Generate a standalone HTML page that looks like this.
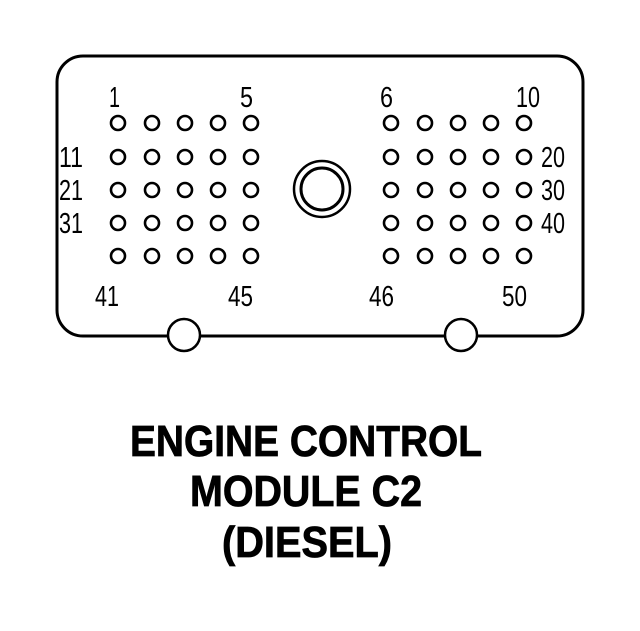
<!DOCTYPE html>
<html><head><style>html,body{margin:0;padding:0;background:#fff;width:640px;height:631px;overflow:hidden}</style></head>
<body>
<svg width="640" height="631" viewBox="0 0 640 631" xmlns="http://www.w3.org/2000/svg">
<rect x="57" y="56" width="526" height="280" rx="26" ry="26" fill="#fff" stroke="#000" stroke-width="3"/>
<circle cx="184" cy="335" r="16" fill="#fff" stroke="#000" stroke-width="2.5"/>
<circle cx="461" cy="335" r="16" fill="#fff" stroke="#000" stroke-width="2.5"/>
<circle cx="322" cy="189" r="28" fill="none" stroke="#000" stroke-width="2.5"/>
<circle cx="322" cy="189" r="21" fill="none" stroke="#000" stroke-width="3"/>
<g fill="none" stroke="#000" stroke-width="2.6">
<g id="L">
<circle cx="118" cy="123" r="7"/><circle cx="152" cy="123" r="7"/><circle cx="185" cy="123" r="7"/><circle cx="218" cy="123" r="7"/><circle cx="251" cy="123" r="7"/>
<circle cx="118" cy="157" r="7"/><circle cx="152" cy="157" r="7"/><circle cx="185" cy="157" r="7"/><circle cx="218" cy="157" r="7"/><circle cx="251" cy="157" r="7"/>
<circle cx="118" cy="190" r="7"/><circle cx="152" cy="190" r="7"/><circle cx="185" cy="190" r="7"/><circle cx="218" cy="190" r="7"/><circle cx="251" cy="190" r="7"/>
<circle cx="118" cy="223" r="7"/><circle cx="152" cy="223" r="7"/><circle cx="185" cy="223" r="7"/><circle cx="218" cy="223" r="7"/><circle cx="251" cy="223" r="7"/>
<circle cx="118" cy="256" r="7"/><circle cx="152" cy="256" r="7"/><circle cx="185" cy="256" r="7"/><circle cx="218" cy="256" r="7"/><circle cx="251" cy="256" r="7"/>
</g>
<use href="#L" x="273"/>
</g>
<g font-family="Liberation Sans, sans-serif" font-size="29" fill="#000">
<text x="109" y="107" textLength="11" lengthAdjust="spacingAndGlyphs">1</text>
<text x="240" y="107" textLength="13" lengthAdjust="spacingAndGlyphs">5</text>
<text x="380" y="107" textLength="13" lengthAdjust="spacingAndGlyphs">6</text>
<text x="516" y="107" textLength="24" lengthAdjust="spacingAndGlyphs">10</text>
<text x="59" y="167" textLength="24" lengthAdjust="spacingAndGlyphs">11</text>
<text x="59" y="200" textLength="24" lengthAdjust="spacingAndGlyphs">21</text>
<text x="59" y="233" textLength="24" lengthAdjust="spacingAndGlyphs">31</text>
<text x="541" y="167" textLength="24" lengthAdjust="spacingAndGlyphs">20</text>
<text x="541" y="200" textLength="24" lengthAdjust="spacingAndGlyphs">30</text>
<text x="541" y="233" textLength="24" lengthAdjust="spacingAndGlyphs">40</text>
<text x="95" y="306" textLength="24" lengthAdjust="spacingAndGlyphs">41</text>
<text x="228" y="306" textLength="25" lengthAdjust="spacingAndGlyphs">45</text>
<text x="369" y="306" textLength="25" lengthAdjust="spacingAndGlyphs">46</text>
<text x="502" y="306" textLength="25" lengthAdjust="spacingAndGlyphs">50</text>
</g>
<g font-family="Liberation Sans, sans-serif" font-weight="bold" font-size="44" fill="#000" stroke="#000" stroke-width="0.8">
<text x="130" y="456" textLength="352" lengthAdjust="spacingAndGlyphs">ENGINE CONTROL</text>
<text x="190" y="506" textLength="232" lengthAdjust="spacingAndGlyphs">MODULE C2</text>
<text x="222" y="557" textLength="170" lengthAdjust="spacingAndGlyphs">(DIESEL)</text>
</g>
</svg>
</body></html>
